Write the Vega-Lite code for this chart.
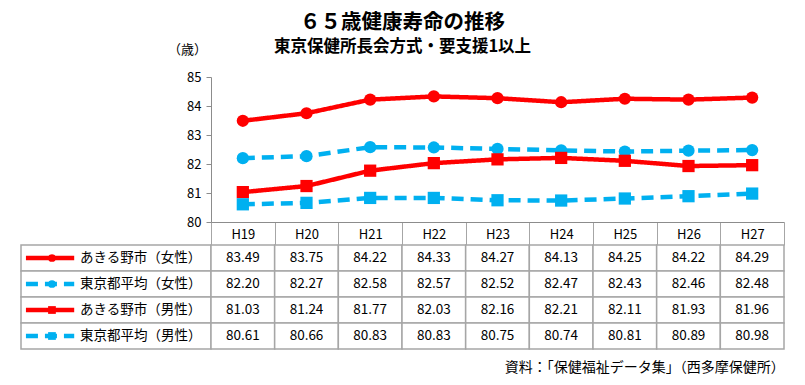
{
  "$schema": "https://vega.github.io/schema/vega-lite/v6.json",
  "autosize": {"type": "pad"},
  "padding": {"left": 20, "top": 13, "right": 20, "bottom": 5},
  "background": "white",
  "config": {
    "font": "Noto Sans CJK JP",
    "view": {"stroke": null},
    "legend": {"disable": true},
    "text": {"font": "Noto Sans CJK JP", "color": "#000000"}
  },
  "title": {
    "text": "６５歳健康寿命の推移",
    "subtitle": "東京保健所長会方式・要支援1以上",
    "anchor": "middle",
    "frame": "bounds",
    "fontSize": 20.5,
    "fontWeight": "bold",
    "color": "#000000",
    "subtitleFontSize": 16.5,
    "subtitleFontWeight": "bold",
    "subtitleColor": "#000000",
    "subtitlePadding": 5,
    "offset": -12
  },
  "datasets": {
    "d": [
      {"year": "H19", "series": "あきる野市（女性）", "value": 83.49},
      {"year": "H20", "series": "あきる野市（女性）", "value": 83.75},
      {"year": "H21", "series": "あきる野市（女性）", "value": 84.22},
      {"year": "H22", "series": "あきる野市（女性）", "value": 84.33},
      {"year": "H23", "series": "あきる野市（女性）", "value": 84.27},
      {"year": "H24", "series": "あきる野市（女性）", "value": 84.13},
      {"year": "H25", "series": "あきる野市（女性）", "value": 84.25},
      {"year": "H26", "series": "あきる野市（女性）", "value": 84.22},
      {"year": "H27", "series": "あきる野市（女性）", "value": 84.29},
      {"year": "H19", "series": "東京都平均（女性）", "value": 82.20},
      {"year": "H20", "series": "東京都平均（女性）", "value": 82.27},
      {"year": "H21", "series": "東京都平均（女性）", "value": 82.58},
      {"year": "H22", "series": "東京都平均（女性）", "value": 82.57},
      {"year": "H23", "series": "東京都平均（女性）", "value": 82.52},
      {"year": "H24", "series": "東京都平均（女性）", "value": 82.47},
      {"year": "H25", "series": "東京都平均（女性）", "value": 82.43},
      {"year": "H26", "series": "東京都平均（女性）", "value": 82.46},
      {"year": "H27", "series": "東京都平均（女性）", "value": 82.48},
      {"year": "H19", "series": "あきる野市（男性）", "value": 81.03},
      {"year": "H20", "series": "あきる野市（男性）", "value": 81.24},
      {"year": "H21", "series": "あきる野市（男性）", "value": 81.77},
      {"year": "H22", "series": "あきる野市（男性）", "value": 82.03},
      {"year": "H23", "series": "あきる野市（男性）", "value": 82.16},
      {"year": "H24", "series": "あきる野市（男性）", "value": 82.21},
      {"year": "H25", "series": "あきる野市（男性）", "value": 82.11},
      {"year": "H26", "series": "あきる野市（男性）", "value": 81.93},
      {"year": "H27", "series": "あきる野市（男性）", "value": 81.96},
      {"year": "H19", "series": "東京都平均（男性）", "value": 80.61},
      {"year": "H20", "series": "東京都平均（男性）", "value": 80.66},
      {"year": "H21", "series": "東京都平均（男性）", "value": 80.83},
      {"year": "H22", "series": "東京都平均（男性）", "value": 80.83},
      {"year": "H23", "series": "東京都平均（男性）", "value": 80.75},
      {"year": "H24", "series": "東京都平均（男性）", "value": 80.74},
      {"year": "H25", "series": "東京都平均（男性）", "value": 80.81},
      {"year": "H26", "series": "東京都平均（男性）", "value": 80.89},
      {"year": "H27", "series": "東京都平均（男性）", "value": 80.98}
    ],
    "legendrows": [
      {"series": "あきる野市（女性）"},
      {"series": "東京都平均（女性）"},
      {"series": "あきる野市（男性）"},
      {"series": "東京都平均（男性）"}
    ],
    "blank": [{"k": ""}]
  },
  "columns": 2,
  "bounds": "flush",
  "spacing": {"row": 23, "column": 0},
  "resolve": {"scale": {"x": "independent", "y": "independent"}},
  "concat": [
    {
      "width": 190,
      "height": 145,
      "data": {"name": "blank"},
      "mark": {"type": "text"},
      "encoding": {"text": {"field": "k"}}
    },
    {
      "width": 573,
      "height": 145,
      "data": {"name": "d"},
      "encoding": {
        "x": {
          "field": "year", "type": "nominal",
          "scale": {"type": "band", "paddingInner": 0, "paddingOuter": 0},
          "axis": {
            "title": null, "labelAngle": 0, "domainColor": "#8c8c8c", "tickColor": "#a6a6a6",
            "tickBand": "extent", "tickSize": 23, "labelPadding": -17,
            "labelFontSize": 13, "labelColor": "#000000", "labelFont": "Noto Sans CJK JP"
          }
        },
        "y": {
          "field": "value", "type": "quantitative",
          "scale": {"domain": [80, 85], "nice": false, "zero": false},
          "axis": {
            "values": [80, 81, 82, 83, 84, 85], "grid": false, "format": "d",
            "domainColor": "#8c8c8c", "tickColor": "#8c8c8c", "tickSize": 5,
            "labelFontSize": 13, "labelColor": "#000000", "labelPadding": 5,
            "title": "（歳）", "titleAngle": 0, "titleX": -24, "titleY": -28,
            "titleAlign": "center", "titleBaseline": "middle", "titleFontSize": 13,
            "titleFontWeight": "normal", "titleColor": "#000000"
          }
        },
        "color": {
          "field": "series", "type": "nominal", "legend": null,
          "scale": {
            "domain": ["あきる野市（女性）", "東京都平均（女性）", "あきる野市（男性）", "東京都平均（男性）"],
            "range": ["#ff0000", "#00b0f0", "#ff0000", "#00b0f0"]
          }
        }
      },
      "layer": [
        {
          "mark": {"type": "line", "strokeWidth": 4.5},
          "encoding": {
            "strokeDash": {
              "field": "series", "type": "nominal", "legend": null,
              "scale": {
                "domain": ["あきる野市（女性）", "東京都平均（女性）", "あきる野市（男性）", "東京都平均（男性）"],
                "range": [[1, 0], [12, 7], [1, 0], [12, 7]]
              }
            }
          }
        },
        {
          "mark": {"type": "point", "filled": true, "opacity": 1, "size": 150},
          "encoding": {
            "shape": {
              "field": "series", "type": "nominal", "legend": null,
              "scale": {
                "domain": ["あきる野市（女性）", "東京都平均（女性）", "あきる野市（男性）", "東京都平均（男性）"],
                "range": ["circle", "circle", "square", "square"]
              }
            }
          }
        }
      ]
    },
    {
      "width": 190,
      "height": 104,
      "data": {"name": "legendrows"},
      "encoding": {
        "y": {
          "field": "series", "type": "nominal",
          "sort": ["あきる野市（女性）", "東京都平均（女性）", "あきる野市（男性）", "東京都平均（男性）"],
          "scale": {"type": "band", "paddingInner": 0, "paddingOuter": 0},
          "axis": null
        },
        "color": {
          "field": "series", "type": "nominal", "legend": null,
          "scale": {
            "domain": ["あきる野市（女性）", "東京都平均（女性）", "あきる野市（男性）", "東京都平均（男性）"],
            "range": ["#ff0000", "#00b0f0", "#ff0000", "#00b0f0"]
          }
        }
      },
      "layer": [
        {
          "mark": {"type": "rect", "fill": "white", "stroke": "#a6a6a6", "strokeWidth": 1.5},
          "encoding": {"color": {"value": "white"}}
        },
        {
          "mark": {"type": "rule", "strokeWidth": 4.5},
          "encoding": {
            "x": {"datum": 0.026, "type": "quantitative", "scale": {"domain": [0, 1]}, "axis": null},
            "x2": {"datum": 0.28},
            "y": {"field": "series", "type": "nominal", "bandPosition": 0.5,
              "sort": ["あきる野市（女性）", "東京都平均（女性）", "あきる野市（男性）", "東京都平均（男性）"]},
            "strokeDash": {
              "field": "series", "type": "nominal", "legend": null,
              "scale": {
                "domain": ["あきる野市（女性）", "東京都平均（女性）", "あきる野市（男性）", "東京都平均（男性）"],
                "range": [[1, 0], [12, 7], [1, 0], [12, 7]]
              }
            }
          }
        },
        {
          "mark": {"type": "point", "filled": true, "opacity": 1, "size": 60},
          "encoding": {
            "x": {"datum": 0.163, "type": "quantitative", "scale": {"domain": [0, 1]}, "axis": null},
            "y": {"field": "series", "type": "nominal", "bandPosition": 0.5,
              "sort": ["あきる野市（女性）", "東京都平均（女性）", "あきる野市（男性）", "東京都平均（男性）"]},
            "shape": {
              "field": "series", "type": "nominal", "legend": null,
              "scale": {
                "domain": ["あきる野市（女性）", "東京都平均（女性）", "あきる野市（男性）", "東京都平均（男性）"],
                "range": ["circle", "circle", "square", "square"]
              }
            }
          }
        },
        {
          "mark": {"type": "text", "align": "left", "baseline": "middle", "fontSize": 13.5, "color": "#000000"},
          "encoding": {
            "x": {"datum": 0.31, "type": "quantitative", "scale": {"domain": [0, 1]}, "axis": null},
            "y": {"field": "series", "type": "nominal", "bandPosition": 0.5,
              "sort": ["あきる野市（女性）", "東京都平均（女性）", "あきる野市（男性）", "東京都平均（男性）"]},
            "text": {"field": "series"},
            "color": {"value": "#000000"}
          }
        }
      ]
    },
    {
      "width": 573,
      "height": 104,
      "data": {"name": "d"},
      "title": {
        "text": "資料：「保健福祉データ集」（西多摩保健所）",
        "orient": "bottom", "anchor": "end", "fontSize": 14, "fontWeight": "normal",
        "color": "#000000", "offset": 11
      },
      "encoding": {
        "x": {
          "field": "year", "type": "nominal",
          "scale": {"type": "band", "paddingInner": 0, "paddingOuter": 0},
          "axis": null
        },
        "y": {
          "field": "series", "type": "nominal",
          "sort": ["あきる野市（女性）", "東京都平均（女性）", "あきる野市（男性）", "東京都平均（男性）"],
          "scale": {"type": "band", "paddingInner": 0, "paddingOuter": 0},
          "axis": null
        }
      },
      "layer": [
        {
          "mark": {"type": "rect", "fill": "white", "stroke": "#a6a6a6", "strokeWidth": 1.5}
        },
        {
          "mark": {"type": "text", "align": "center", "baseline": "middle", "fontSize": 13.5, "color": "#000000"},
          "encoding": {
            "text": {"field": "value", "type": "quantitative", "format": ".2f"}
          }
        }
      ]
    }
  ]
}
